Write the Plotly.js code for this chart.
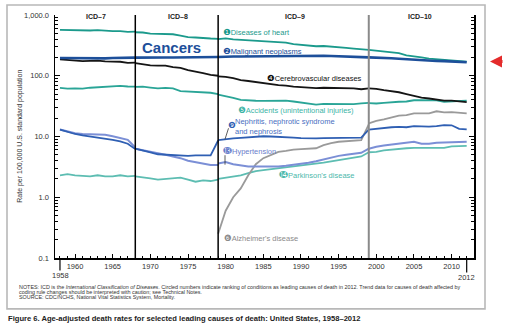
<!DOCTYPE html>
<html>
<head>
<meta charset="utf-8">
<script src="https://cdn.plot.ly/plotly-3.0.1.min.js"></script>
<style>html,body{margin:0;padding:0;background:#fff;}#chart{width:506px;height:327px;}</style>
</head>
<body>
<div id="chart"></div>
<script>
// ---- Years for each ICD revision segment ----
const yearsICD7  = [1958,1959,1960,1961,1962,1963,1964,1965,1966,1967,1968];
const yearsICD8  = [1968,1969,1970,1971,1972,1973,1974,1975,1976,1977,1978,1979];
const yearsICD9  = [1979,1980,1981,1982,1983,1984,1985,1986,1987,1988,1989,1990,1991,1992,1993,1994,1995,1996,1997,1998,1999];
const yearsICD10 = [1999,2000,2001,2002,2003,2004,2005,2006,2007,2008,2009,2010,2011,2012];
const icdBoundaries = [1968, 1979, 1999];
const icdLabels = ["ICD–7","ICD–8","ICD–9","ICD–10"];

// ---- Diseases of heart ----
const heart7  = [568,562,559,548,556,562,545,543,542,528,531];
const heart8  = [520,515,493,492,490,482,458,431,426,413,410,405];
const heart9  = [401,412,397,389,388,378,375,366,355,352,332,322,313,306,309,299,297,288,280,272,267];
const heart10 = [267,258,250,245,236,217,211,200,191,186,180,179,174,171];
// ---- Malignant neoplasms ----
const cancer7  = [196,195,194,194,193,194,193,196,196,197,199];
const cancer8  = [199,198,199,199,200,200,201,200,203,203,204,204];
const cancer9  = [204,208,207,208,209,210,211,211,211,213,215,216,216,214,214,212,210,206,204,202,201];
const cancer10 = [201,200,196,194,190,186,184,181,178,175,174,173,169,167];
// ---- Cerebrovascular diseases ----
const stroke7  = [186,182,178,174,176,177,172,171,170,163,165];
const stroke8  = [162,156,148,147,147,139,135,124,118,110,103,100];
const stroke9  = [98,96,91,85,82,79,76,72,70,69,66,65,63,62.5,63.5,63.5,63.5,63,62,60,62];
const stroke10 = [62,61,58,56,53.5,50,46.6,43.6,42.2,40.7,39,39.1,37.9,36.9];
// ---- Accidents ----
const accid7  = [63,61.5,62,61.5,63.5,65,66,67.5,68,66.5,66];
const accid8  = [65.5,66,64,62,63,62,56,55,53,53,52.5,50];
const accid9  = [49,46.4,43.4,40.1,39.1,38.8,38.5,38.6,38.2,38.9,37.7,36.3,34.7,33.4,34.4,34.3,34.4,34.5,34.2,35,35.9];
const accid10 = [35.3,34.9,35.7,36.9,37.3,37.7,39.5,39.8,40,39.2,37.3,38,38.6,39.1];
// ---- Nephritis ----
const nephr7  = [13,11.9,11,10.4,10,9.6,9.2,8.8,8.3,7.6,6.2];
const nephr8  = [6.3,5.8,5.5,5.1,5.0,4.9,4.9,4.8,4.9,4.9,4.9,8.6];
const nephr9  = [8.7,9.1,9.3,9.5,9.7,9.9,10.1,10,9.9,9.9,9.6,9.4,9.3,9.3,9.4,9.4,9.4,9.4,9.5,9.6,13];
const nephr10 = [13,13.5,14,14.2,14.4,14.2,14.8,14.5,14.5,14.8,15.4,15.3,13.4,13.1];
// ---- Hypertension ----
const hyper7  = [13,12,11.3,11,11,11,10.7,10.1,9.5,8.8,6.6];
const hyper8  = [6.3,5.9,5.6,5.3,5.0,4.7,4.4,4.0,3.8,3.6,3.4,3.4];
const hyper9  = [3.6,3.8,3.5,3.3,3.2,3.2,3.2,3.2,3.2,3.3,3.4,3.5,3.7,3.9,4.2,4.5,4.8,5.0,5.2,5.4,6.3];
const hyper10 = [6.3,6.8,7.1,7.4,7.7,7.9,8.2,7.6,7.6,7.9,7.9,8.0,8.1,8.2];
// ---- Parkinson's disease ----
const park7  = [2.3,2.4,2.3,2.25,2.2,2.3,2.2,2.2,2.3,2.2,2.25];
const park8  = [2.2,2.15,2.05,1.95,2.0,2.05,2.1,1.95,1.8,1.9,1.85,1.95];
const park9  = [2.0,2.1,2.2,2.3,2.5,2.7,2.8,2.9,3.0,3.1,3.2,3.3,3.4,3.5,3.7,3.9,4.1,4.3,4.5,4.7,5.5];
const park10 = [5.5,5.6,5.9,6.1,6.2,6.4,6.5,6.5,6.5,6.6,6.5,6.9,7.0,7.0];
// ---- Alzheimer's disease (from ICD-9) ----
const alz9  = [0.25,0.6,1.0,1.4,2.3,3.5,4.4,5.0,5.6,5.8,6.1,6.2,6.3,6.4,7.2,7.8,8.2,8.3,8.5,8.7,15.8];
const alz10 = [16.5,18.1,19.1,20.5,22,22.5,24,24,24,26,25,25.2,24.6,24];

// ---- ticks ----
const yTickVals = [0.1,1,10,100,1000];
const yTickText = ["0.1","1.0","10.0","100.0","1,000.0"];
const xTickVals = [1960,1965,1970,1975,1980,1985,1990,1995,2000,2005,2010];
const xEndYears = [1958, 2012];

// ---- geometry helpers (pixel -> paper) ----
const L = 55, R = 32, T = 15, B = 68.5, W = 506, H = 327;
const pw = W - L - R, ph = H - T - B;
const px = X => (X - L) / pw;
const py = Y => (H - B - Y) / ph;

const COL = {
  heart:'#1b9a8c', cancer:'#1d4f9a', stroke:'#151515', accid:'#2aa597',
  nephr:'#2f5fb3', hyper:'#7b8fd6', park:'#5dbdb2', alz:'#9a9a9a'
};

const series = [
  {segs:[[yearsICD7,park7],[yearsICD8,park8],[yearsICD9,park9],[yearsICD10,park10]], c:COL.park, w:1.8},
  {segs:[[yearsICD9,alz9],[yearsICD10,alz10]], c:COL.alz, w:1.8},
  {segs:[[yearsICD7,hyper7],[yearsICD8,hyper8],[yearsICD9,hyper9],[yearsICD10,hyper10]], c:COL.hyper, w:2},
  {segs:[[yearsICD7,nephr7],[yearsICD8,nephr8],[yearsICD9,nephr9],[yearsICD10,nephr10]], c:COL.nephr, w:1.8},
  {segs:[[yearsICD7,accid7],[yearsICD8,accid8],[yearsICD9,accid9],[yearsICD10,accid10]], c:COL.accid, w:1.8},
  {segs:[[yearsICD7,stroke7],[yearsICD8,stroke8],[yearsICD9,stroke9],[yearsICD10,stroke10]], c:COL.stroke, w:1.8},
  {segs:[[yearsICD7,heart7],[yearsICD8,heart8],[yearsICD9,heart9],[yearsICD10,heart10]], c:COL.heart, w:1.8},
  {segs:[[yearsICD7,cancer7],[yearsICD8,cancer8],[yearsICD9,cancer9],[yearsICD10,cancer10]], c:COL.cancer, w:2.6}
];

const traces = [];
series.forEach(s => s.segs.forEach(([x,y]) => traces.push({
  type:'scatter', mode:'lines', x:x, y:y,
  line:{color:s.c, width:s.w, shape:'linear'}, hoverinfo:'skip', showlegend:false
})));

// minor tick positions
const minorY = [];
[0.1,1,10,100].forEach(d => { for (let k=2;k<=9;k++) minorY.push(+(d*k).toPrecision(3)); });
const minorX = [];
for (let yr=1958; yr<=2012; yr++) minorX.push(yr);

const F = 'Arial, "Liberation Sans", sans-serif';
const shapes = [];
shapes.push({type:'rect', xref:'paper', yref:'paper', x0:px(7), x1:px(485), y0:py(309.5), y1:py(5),
  line:{color:'#b8b8b8', width:1.6}, layer:'below'});
icdBoundaries.forEach((b,i) => shapes.push({type:'line', xref:'x', yref:'paper', x0:b, x1:b, y0:0, y1:1,
  line:{color: i===2 ? '#8a8a8a' : '#000', width: i===2 ? 2 : 1.5}, layer:'above'}));
xEndYears.forEach((yr,i) => shapes.push({type:'line', xref:'x', yref:'paper', x0:yr, x1:yr, y0:0, y1:py(i===0?271:273),
  line:{color:'#000', width:1.2}}));
shapes.push({type:'line', xref:'paper', yref:'paper', x0:px(228.5), y0:py(128.5), x1:px(225), y1:py(139.5), line:{color:'#333', width:0.8}});
shapes.push({type:'line', xref:'paper', yref:'paper', x0:px(225), y0:py(155.5), x1:px(225), y1:py(165), line:{color:'#333', width:0.8}});

const circ = g => '<span style="font-family:\'DejaVu Sans\';font-size:8.5px">' + g + '</span>';

function lab(text, X, Y, color, size, extra) {
  return Object.assign({xref:'paper', yref:'paper', x:px(X), y:py(Y), xanchor:'left', yanchor:'middle',
    text:text, showarrow:false, font:{family:F, size:size||7.5, color:color}}, extra||{});
}

const annotations = [
  lab(circ('❶') + 'Diseases of heart', 221, 32.5, COL.heart),
  lab(circ('❷') + 'Malignant neoplasms', 221, 51, COL.cancer),
  lab('<b>Cancers</b>', 140, 48, COL.cancer, 15),
  lab(circ('❹') + 'Cerebrovascular diseases', 264.5, 78, '#111'),
  lab(circ('❺') + 'Accidents (unintentional injuries)', 235.5, 110, '#3cb4a6'),
  lab(circ('❾'), 225.5, 125.5, COL.nephr),
  lab('Nephritis, nephrotic syndrome<br>and nephrosis', 233, 126.5, '#4a6fbf', 7.5, {align:'left'}),
  lab(circ('⓭') + 'Hypertension', 221, 151.5, '#6a80cc'),
  lab(circ('⓮') + 'Parkinson\'s disease', 277, 175.5, '#4cb8ab'),
  lab(circ('❻') + 'Alzheimer\'s disease', 222, 238.5, '#8a8a8a'),
  lab('<b>' + icdLabels[0] + '</b>', 95.5, 17, '#222', 7, {xanchor:'center'}),
  lab('<b>' + icdLabels[1] + '</b>', 177.5, 17, '#222', 7, {xanchor:'center'}),
  lab('<b>' + icdLabels[2] + '</b>', 295, 17, '#222', 7, {xanchor:'center'}),
  lab('<b>' + icdLabels[3] + '</b>', 419.5, 17, '#222', 7, {xanchor:'center'}),
  lab(String(xEndYears[0]), 60, 276.5, '#333', 7.5, {xanchor:'center'}),
  lab(String(xEndYears[1]), 466.7, 278, '#333', 7.5, {xanchor:'center'}),
  {xref:'paper', yref:'paper', x:px(20), y:py(137), text:'Rate per 100,000 U.S. standard population', textangle:-90,
   showarrow:false, font:{family:F, size:7, color:'#333'}, xanchor:'center', yanchor:'middle'},
  lab('NOTES: ICD is the <i>International Classification of Diseases</i>. Circled numbers indicate ranking of conditions as leading causes of death in 2012. Trend data for causes of death affected by', 16.5, 287.5, '#333', 5.4),
  lab('coding rule changes should be interpreted with caution; see Technical Notes.', 16.5, 292.7, '#333', 5.4),
  lab('SOURCE: CDC/NCHS, National Vital Statistics System, Mortality.', 16.5, 297.8, '#333', 5.4),
  lab('<b>Figure 6. Age-adjusted death rates for selected leading causes of death: United States, 1958–2012</b>', 5.5, 319, '#222', 7.6),
  {xref:'paper', yref:'paper', x:px(490), y:py(61.7), ax:14, ay:0, text:'', showarrow:true,
   arrowhead:2, arrowsize:0.8, arrowwidth:3, arrowcolor:'#e42b2b', standoff:0}
];

const layout = {
  width:W, height:H, margin:{l:L, r:R, t:T, b:B},
  paper_bgcolor:'#fff', plot_bgcolor:'#fff', showlegend:false, hovermode:false,
  font:{family:F, size:7.5, color:'#333'},
  xaxis:{range:[1957.34, 2012.97], tickvals:xTickVals, ticks:'inside', ticklen:4, tickwidth:1, tickcolor:'#000',
    showline:true, linecolor:'#000', linewidth:1.5, showgrid:false, zeroline:false,
    tickfont:{family:F, size:7.5, color:'#333'},
    minor:{tickvals:minorX, ticks:'inside', ticklen:2, tickwidth:1, tickcolor:'#000', showgrid:false}},
  yaxis:{type:'log', range:[-1,3], tickvals:yTickVals, ticktext:yTickText, ticks:'inside', ticklen:5, tickwidth:1, tickcolor:'#000',
    showline:true, linecolor:'#000', linewidth:1.5, mirror:'ticks', showgrid:false, zeroline:false,
    tickfont:{family:F, size:7.5, color:'#333'}, ticklabelstandoff:3,
    minor:{tickvals:minorY, ticks:'inside', ticklen:3, tickwidth:1, tickcolor:'#000', showgrid:false}},
  shapes:shapes, annotations:annotations
};

Plotly.newPlot('chart', traces, layout, {staticPlot:true, displayModeBar:false});
</script>
</body>
</html>
